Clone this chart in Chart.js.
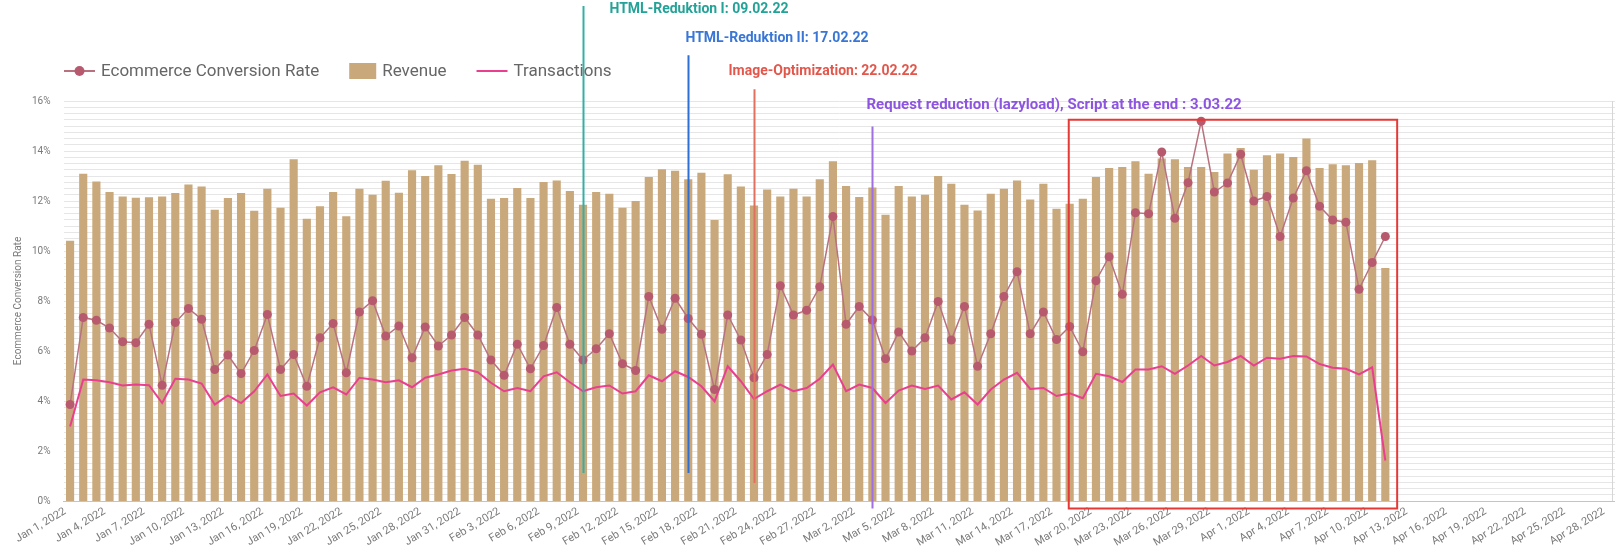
<!DOCTYPE html>
<html>
<head>
<meta charset="utf-8">
<script src="https://cdn.jsdelivr.net/npm/chart.js@4.4.1/dist/chart.umd.min.js"></script>
<style>
  html, body { margin: 0; padding: 0; background: #fff; overflow: hidden; }
</style>
</head>
<body>
<canvas id="chart" width="1620" height="556"></canvas>
<script>
// Tage Jan 1 – Apr 28, 2022
const monthDays = [["Jan", 31], ["Feb", 28], ["Mar", 31], ["Apr", 28]];
const categories = [];
monthDays.forEach(([m, n]) => {
  for (let d = 1; d <= n; d++) categories.push(`${m} ${d}, 2022`);
});

// Ecommerce Conversion Rate (%), Jan 1 – Apr 11
const conversionRate = [
  3.86, 7.34, 7.23, 6.92, 6.37, 6.33, 7.07, 4.63, 7.14, 7.70,
  7.27, 5.26, 5.84, 5.10, 6.02, 7.46, 5.26, 5.86, 4.59, 6.53,
  7.10, 5.13, 7.56, 8.01, 6.60, 7.00, 5.73, 6.96, 6.20, 6.64,
  7.34, 6.64, 5.64, 5.03, 6.27, 5.29, 6.22, 7.74, 6.27, 5.64,
  6.09, 6.69, 5.49, 5.22, 8.18, 6.87, 8.11, 7.30, 6.67, 4.46,
  7.44, 6.44, 4.93, 5.86, 8.61, 7.44, 7.63, 8.57, 11.38, 7.07,
  7.78, 7.24, 5.69, 6.76, 6.00, 6.53, 7.98, 6.44, 7.78, 5.39,
  6.69, 8.18, 9.17, 6.69, 7.56, 6.46, 6.98, 5.97, 8.81, 9.77,
  8.27, 11.53, 11.49, 13.96, 11.31, 12.73, 15.19, 12.36, 12.72, 13.87,
  12.00, 12.18, 10.58, 12.12, 13.21, 11.79, 11.24, 11.15, 8.47, 9.54,
  10.58
];

// Revenue (relative Balkenhöhe, eigene versteckte Achse)
const revenue = [
  10.41, 13.09, 12.78, 12.36, 12.18, 12.13, 12.15, 12.18, 12.32, 12.66,
  12.58, 11.65, 12.12, 12.32, 11.61, 12.49, 11.73, 13.67, 11.29, 11.79,
  12.36, 11.39, 12.49, 12.25, 12.81, 12.33, 13.23, 13.00, 13.43, 13.08,
  13.61, 13.45, 12.09, 12.12, 12.52, 12.12, 12.76, 12.82, 12.40, 11.85,
  12.36, 12.29, 11.73, 12.00, 12.96, 13.27, 13.21, 12.87, 13.13, 11.24,
  13.07, 12.58, 11.82, 12.46, 12.18, 12.49, 12.18, 12.87, 13.59, 12.60,
  12.16, 12.54, 11.45, 12.60, 12.18, 12.25, 13.00, 12.69, 11.85, 11.62,
  12.29, 12.49, 12.82, 12.06, 12.69, 11.69, 11.89, 12.09, 12.96, 13.32,
  13.36, 13.59, 13.09, 13.70, 13.67, 13.36, 13.36, 13.16, 13.90, 14.12,
  13.25, 13.83, 13.90, 13.76, 14.50, 13.32, 13.47, 13.43, 13.52, 13.63,
  9.32
];

// Transactions (relative, eigene versteckte Achse)
const transactions = [
  2.98, 4.86, 4.83, 4.75, 4.62, 4.66, 4.63, 3.92, 4.89, 4.86,
  4.70, 3.86, 4.22, 3.92, 4.39, 5.06, 4.20, 4.30, 3.82, 4.35,
  4.55, 4.26, 4.93, 4.86, 4.75, 4.83, 4.55, 4.93, 5.06, 5.22,
  5.29, 5.15, 4.73, 4.39, 4.52, 4.39, 4.99, 5.15, 4.75, 4.39,
  4.55, 4.62, 4.30, 4.39, 5.03, 4.79, 5.19, 4.96, 4.59, 3.99,
  5.39, 4.79, 4.08, 4.39, 4.66, 4.39, 4.52, 4.89, 5.46, 4.39,
  4.66, 4.52, 3.92, 4.42, 4.62, 4.48, 4.62, 4.06, 4.35, 3.86,
  4.46, 4.86, 5.13, 4.48, 4.52, 4.20, 4.31, 4.11, 5.09, 4.99,
  4.76, 5.26, 5.26, 5.39, 5.09, 5.42, 5.80, 5.42, 5.56, 5.80,
  5.42, 5.73, 5.69, 5.80, 5.78, 5.48, 5.33, 5.29, 5.06, 5.35,
  1.62
];

const yTickLabels = ["0%", "2%", "4%", "6%", "8%", "10%", "12%", "14%", "16%"];

// Markierungen der Optimierungen (Index = Tag)
const milestones = [
  { idx: 39, text: "HTML-Reduktion I: 09.02.22", color: "#23a398", line: "#33b0a6", top: 19.8, bottom: 1.12, textY: 19.68, dx: 26, size: 14 },
  { idx: 47, text: "HTML-Reduktion II: 17.02.22", color: "#3a76d6", line: "#2d6fd2", top: 17.83, bottom: 1.12, textY: 18.51, dx: -3, size: 14 },
  { idx: 52, text: "Image-Optimization: 22.02.22", color: "#e2574c", line: "#e2705f", top: 16.47, bottom: 0.72, textY: 17.19, dx: -26, size: 14 },
  { idx: 61, text: "Request reduction (lazyload), Script at the end : 3.03.22", color: "#8d55df", line: "#a06fe2", top: 14.98, bottom: -0.3, textY: 15.82, dx: -6, size: 15 }
];
const highlightBox = { from: 75.93, to: 100.9, top: 15.25, bottom: -0.3, color: "#e53935" };

const annotations = {
  id: "annotations",
  afterDatasetsDraw(chart) {
    const { ctx, scales: { x, y } } = chart;
    ctx.save();
    // roter Rahmen
    ctx.strokeStyle = highlightBox.color;
    ctx.lineWidth = 2;
    const bx1 = x.getPixelForValue(highlightBox.from);
    const bx2 = x.getPixelForValue(highlightBox.to);
    const by1 = y.getPixelForValue(highlightBox.top);
    const by2 = y.getPixelForValue(highlightBox.bottom);
    ctx.strokeRect(bx1, by1, bx2 - bx1, by2 - by1);

    ctx.textBaseline = "middle";
    milestones.forEach((m) => {
      const px = Math.round(x.getPixelForValue(m.idx)) + 0.5;
      ctx.strokeStyle = m.line;
      ctx.lineWidth = 2;
      ctx.beginPath();
      ctx.moveTo(px, y.getPixelForValue(m.top));
      ctx.lineTo(px, y.getPixelForValue(m.bottom));
      ctx.stroke();
      ctx.font = `bold ${m.size}px Roboto`;
      ctx.fillStyle = m.color;
      ctx.fillText(m.text, px + m.dx, y.getPixelForValue(m.textY));
    });
    ctx.restore();
  }
};

const legendRow = {
  id: "legendRow",
  afterDraw(chart) {
    const ctx = chart.ctx;
    const ly = 71;
    let lx = chart.chartArea.left + 0.5;
    ctx.save();
    ctx.font = "17px Roboto";
    ctx.textBaseline = "middle";
    chart.data.datasets.forEach((ds) => {
      if (ds.type === "bar") {
        ctx.fillStyle = ds.backgroundColor;
        ctx.fillRect(lx, ly - 8, 27, 16);
        lx += 27;
      } else {
        ctx.strokeStyle = ds.borderColor;
        ctx.lineWidth = 2;
        ctx.beginPath();
        ctx.moveTo(lx, ly);
        ctx.lineTo(lx + 31, ly);
        ctx.stroke();
        if (ds.pointRadius > 0) {
          ctx.fillStyle = ds.pointBackgroundColor;
          ctx.beginPath();
          ctx.arc(lx + 15.5, ly, 5, 0, Math.PI * 2);
          ctx.fill();
        }
        lx += 31;
      }
      lx += 6;
      ctx.fillStyle = "#666";
      ctx.fillText(ds.label, lx, ly + 1);
      lx += ctx.measureText(ds.label).width + 30;
    });
    // rechter Rand (sichtbarer Fensterrand)
    ctx.strokeStyle = "#d6d6d6";
    ctx.lineWidth = 1;
    ctx.beginPath();
    ctx.moveTo(1612.5, chart.chartArea.top);
    ctx.lineTo(1612.5, chart.chartArea.bottom);
    ctx.stroke();
    ctx.restore();
  }
};

new Chart(document.getElementById("chart"), {
  data: {
    labels: categories,
    datasets: [
      {
        type: "line",
        label: "Ecommerce Conversion Rate",
        data: conversionRate,
        yAxisID: "y",
        borderColor: "#b8727f",
        borderWidth: 1.5,
        pointRadius: 4.5,
        pointBackgroundColor: "#b85a6e",
        pointBorderWidth: 0,
        tension: 0,
        order: 1
      },
      {
        type: "bar",
        label: "Revenue",
        data: revenue,
        yAxisID: "yRev",
        backgroundColor: "#c9a97b",
        barPercentage: 0.62,
        categoryPercentage: 1,
        order: 3
      },
      {
        type: "line",
        label: "Transactions",
        data: transactions,
        yAxisID: "yTx",
        borderColor: "#ea3f8f",
        borderWidth: 2,
        pointRadius: 0,
        tension: 0,
        order: 2
      }
    ]
  },
  options: {
    responsive: false,
    animation: false,
    devicePixelRatio: 1,
    layout: { padding: { top: 101, left: 5, right: 1, bottom: 0 } },
    plugins: { legend: { display: false }, tooltip: { enabled: false } },
    scales: {
      x: {
        type: "category",
        offset: true,
        grid: { display: false, drawTicks: false },
        border: { display: true, color: "#c4c4c4" },
        ticks: {
          autoSkip: false,
          minRotation: 31,
          maxRotation: 31,
          padding: 4,
          labelOffset: -5,
          color: "#7a7a7a",
          font: { family: "Roboto", size: 11 },
          callback: (v, i) => (i % 3 === 0 ? categories[i] : "")
        },
        afterFit: (s) => { s.height = 55; }
      },
      y: {
        position: "left",
        min: 0,
        max: 16,
        grid: { color: "#e6e6e6", drawTicks: false },
        border: { display: false },
        ticks: {
          stepSize: 0.25,
          autoSkip: false,
          padding: 13,
          color: "#7a7a7a",
          font: { family: "Roboto", size: 10 },
          callback: (v) => (v % 2 === 0 ? yTickLabels[v / 2] : "")
        },
        title: {
          display: true,
          text: "Ecommerce Conversion Rate",
          color: "#7a7a7a",
          font: { family: "Roboto", size: 10 },
          padding: { top: 7, bottom: 0 }
        },
        afterFit: (s) => { s.width = 58.5; }
      },
      yRev: { display: false, min: 0, max: 16 },
      yTx: { display: false, min: 0, max: 16 }
    }
  },
  plugins: [annotations, legendRow]
});
</script>
</body>
</html>
